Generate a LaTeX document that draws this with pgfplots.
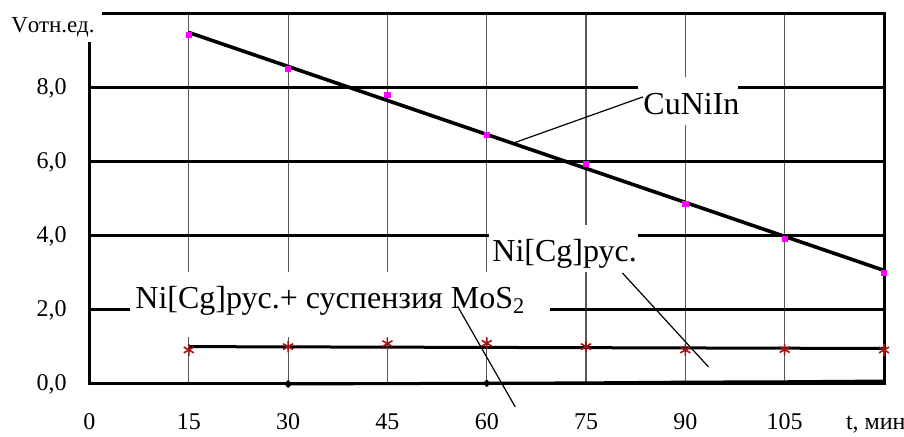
\documentclass[border=0pt]{standalone}
\usepackage{pgfplots}
\pgfplotsset{compat=1.18}
\usepackage{fontspec}
\setmainfont{Liberation Serif}
\definecolor{mag}{RGB}{255,0,255}
\definecolor{dred}{RGB}{160,20,20}
\begin{document}
\begin{tikzpicture}
\begin{axis}[
  scale only axis, width=397.25pt, height=185pt,
  xmin=0, xmax=120, ymin=0, ymax=10,
  clip=false,
  axis line style={draw=none},
  major tick length=0pt,
  tick style={draw=none},
  xtick={0,15,30,45,60,75,90,105},
  ytick={0,2,4,6,8},
  yticklabels={{0,0},{2,0},{4,0},{6,0},{8,0}},
  /pgf/number format/assume math mode=true,
  xticklabel style={font=\fontsize{12}{14}\selectfont, anchor=base, inner sep=0pt, yshift=-23pt},
  yticklabel style={font=\fontsize{12}{14}\selectfont, anchor=east, inner sep=0pt, xshift=-11.25pt},
]
% grid
\pgfplotsinvokeforeach{15,30,45,60,75,90,105}{
  \draw[black!65, line width=0.6pt] (axis cs:#1,0) -- (axis cs:#1,10);
}
\pgfplotsinvokeforeach{2,4,6,8}{
  \draw[black, line width=1.5pt] (axis cs:0,#1) -- (axis cs:120,#1);
}
\draw[black, line width=1.5pt, line join=miter] (axis cs:0,0) rectangle (axis cs:120,10);

% data
\addplot[only marks, mark=square*, mark size=1.3pt, color=mag] coordinates {
  (15,9.43) (30,8.51) (45,7.81) (60,6.73) (75,5.95) (90,4.86) (105,3.92) (120,3.00)
};
\addplot[black, line width=1.8pt, no marks] coordinates {(15,9.50) (120,3.07)};

\addplot[black, line width=1.5pt, no marks] coordinates {(15,1.01) (120,0.96)};
\addplot[only marks, mark=asterisk, mark size=2.9pt, color=dred, mark options={line width=0.8pt}] coordinates {
  (15,0.92) (30,1.01) (45,1.09) (60,1.10) (75,1.01) (90,0.92) (105,0.93) (120,0.92)
};

\addplot[black, line width=1.5pt, mark=*, mark size=0.9pt, mark indices={1,3}] coordinates {
  (30,0.00) (45,0.01) (60,0.02) (75,0.03) (90,0.05) (105,0.06) (120,0.08)
};

% masks and labels
\fill[white] (axis cs:-14,10.6) rectangle (axis cs:1.96,9.24);
\node[anchor=base, inner sep=0pt, font=\fontsize{11.5}{13}\selectfont] at (axis cs:-5.52,9.51) {Vотн.ед.};

\fill[white] (axis cs:6.1,1.27) rectangle (axis cs:69.6,3.03);
\node[anchor=base west, inner sep=0pt, font=\fontsize{16}{18}\selectfont] at (axis cs:6.88,2.05) {Ni[Cg]рус.+ суспензия MoS\textsubscript{2}};

\fill[white] (axis cs:60.35,3.03) rectangle (axis cs:82.9,4.3);
\node[anchor=base west, inner sep=0pt, font=\fontsize{16}{18}\selectfont] at (axis cs:60.8,3.3) {Ni[Cg]рус.};

\fill[white] (axis cs:82.9,7.0) rectangle (axis cs:98.0,8.3);
\node[anchor=base west, inner sep=0pt, font=\fontsize{16}{18}\selectfont] at (axis cs:83.6,7.29) {CuNiIn};

\node[anchor=base west, inner sep=0pt, font=\fontsize{12}{14}\selectfont] at (axis cs:114.2,-1.24) {t, мин};

% leaders
\draw[black, line width=0.6pt] (axis cs:64.0,6.51) -- (axis cs:83.6,7.76);
\draw[black, line width=0.6pt] (axis cs:80.5,3.0) -- (axis cs:93.5,0.46);
\draw[black, line width=0.6pt] (axis cs:55.6,2.1) -- (axis cs:64.3,-0.62);
\end{axis}
\pgfresetboundingbox
\path (-44.75pt,-26.5pt) rectangle (407.25pt,192pt);
\end{tikzpicture}
\end{document}
